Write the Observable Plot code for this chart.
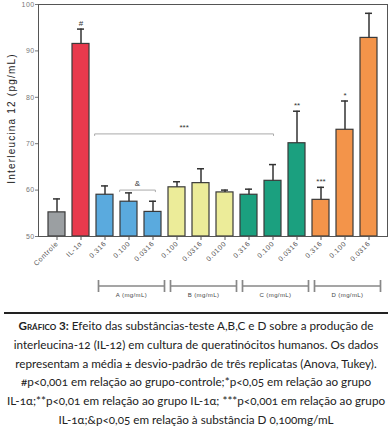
<!DOCTYPE html>
<html><head><meta charset="utf-8">
<script src="https://cdn.jsdelivr.net/npm/d3@7"></script>
<script src="https://cdn.jsdelivr.net/npm/@observablehq/plot@0.6"></script>
<style>
body{margin:0;background:#fff;width:392px;}
#chart svg{display:block;}
#caption{border-top:2px solid #222;margin:7px 4px 0 4px;padding-top:2px;font-family:Lato,"Open Sans",sans-serif;font-size:11.7px;line-height:18.8px;text-align:center;color:#222;font-variant-numeric:oldstyle-nums;white-space:nowrap;}
.sc{font-variant:small-caps;font-weight:bold;}
svg [aria-label="x-axis tick label"] text{letter-spacing:0.6px;}
svg [aria-label="y-axis tick label"] text{letter-spacing:0.4px;}
</style></head><body>
<div id="chart"></div>
<div id="caption"><span class="sc">Gráfico 3:</span> Efeito das substâncias-teste A,B,C e D sobre a produção de<br>interleucina-12 (IL-12) em cultura de queratinócitos humanos. Os dados<br>representam a média ± desvio-padrão de três replicatas (Anova, Tukey).<br>#p&lt;0,001 em relação ao grupo-controle;*p&lt;0,05 em relação ao grupo<br>IL-1α;**p&lt;0,01 em relação ao grupo IL-1α; ***p&lt;0,001 em relação ao grupo<br>IL-1α;&amp;p&lt;0,05 em relação à substância D 0,100mg/mL</div>
<script>
const keys = ["Controle","IL-1α","A 0.316","A 0.100","A 0.0316","B 0.100","B 0.0316","B 0.0100","C 0.316","C 0.100","C 0.0316","D 0.316","D 0.100","D 0.0316"];
const tickLabels = ["Controle","IL-1α","0.316","0.100","0.0316","0.100","0.0316","0.0100","0.316","0.100","0.0316","0.316","0.100","0.0316"];
const groups = ["Controle","IL-1α","A","A","A","B","B","B","C","C","C","D","D","D"];
const means = [55.2,91.5,59.0,57.5,55.3,60.6,61.5,59.5,59.0,62.0,70.1,57.9,73.0,92.8];
const sds = [2.9,3.2,1.9,1.9,2.3,1.2,3.1,0.5,1.2,3.5,6.9,2.7,6.2,5.3];
const sig = ["","#","","","","","","","","","**","***","*",""];
const groupNames = ["A","B","C","D"];
const groupLabels = ["A (mg/mL)","B (mg/mL)","C (mg/mL)","D (mg/mL)"];
const yTicks = [50,60,70,80,90,100];
const yLabel = "Interleucina 12 (pg/mL)";
const colorDomain = ["Controle","IL-1α","A","B","C","D"];
const colorRange = ["#9b9fa2","#e83a4d","#5aaade","#ecec99","#1ba07f","#f3944a"];
// comparison brackets: text, from bar, to bar, level (pg/mL)
const compText = ["***","&"];
const compFrom = ["A 0.316","A 0.100"];
const compTo = ["C 0.100","A 0.0316"];
const compLevel = [72.0,59.9];

const data = keys.map((k,i)=>({key:k, group:groups[i], mean:means[i], top:means[i]+sds[i], sig:sig[i]}));

function bandInfo(x){
  const step = x(keys[1]) - x(keys[0]);
  let bw = x.bandwidth;
  if (typeof bw === "function") bw = bw();
  if (typeof bw !== "number" || !isFinite(bw)) bw = step*0.7;
  return {step, bw, c: k => x(k) + bw/2};
}

function compMark(index, scales){
  const {x, y} = scales;
  const {bw, c} = bandInfo(x);
  const g = d3.create("svg:g");
  const offFrom = [-0.58, -0.52], offTo = [0.06, 0.17];
  compText.forEach((t,i)=>{
    const x1 = c(compFrom[i]) + offFrom[i]*bw, x2 = c(compTo[i]) + offTo[i]*bw, yy = y(compLevel[i]);
    g.append("path").attr("d",`M${x1},${yy+2}V${yy}H${x2}V${yy+2}`).attr("fill","none").attr("stroke","#aaa").attr("stroke-width",1);
    g.append("text").attr("x",(x1+x2)/2).attr("y",yy-4).attr("text-anchor","middle").attr("font-size",8).attr("fill","#333").attr("font-family","Liberation Sans, Arial, sans-serif").text(t);
  });
  return g.node();
}

function groupMark(index, scales){
  const {x, y} = scales;
  const {step, c} = bandInfo(x);
  const base = y(50);
  const g = d3.create("svg:g");
  groupNames.forEach((gn,i)=>{
    const ks = keys.filter((k,j)=>groups[j]===gn);
    const x1 = c(ks[0]) - step/2 + 6, x2 = c(ks[ks.length-1]) + step/2, yy = base + 50;
    g.append("path").attr("d",`M${x1},${yy-6}V${yy+6}M${x1},${yy}H${x2}M${x2},${yy-6}V${yy+6}`).attr("fill","none").attr("stroke","#888").attr("stroke-width",1.7);
    g.append("text").attr("x",(x1+x2)/2).attr("y",yy+11).attr("text-anchor","middle").attr("font-size",6).attr("letter-spacing","0.4px").attr("fill","#444").attr("font-family","Liberation Sans, Arial, sans-serif").text(groupLabels[i]);
  });
  return g.node();
}

const plot = Plot.plot({
  width:392, height:305, marginTop:4, marginBottom:69, marginLeft:38, marginRight:5,
  style:{fontFamily:"Liberation Sans, Arial, sans-serif", background:"#fff", overflow:"visible"},
  x:{domain:keys, paddingInner:0.3, paddingOuter:0.2, axis:null},
  y:{domain:[50,100], axis:null},
  color:{domain:colorDomain, range:colorRange},
  marks:[
    Plot.barY(data,{x:"key", y1:50, y2:"mean", fill:"group", stroke:"#3a3a3a", strokeWidth:1.2}),
    Plot.ruleX(data,{x:"key", y1:"mean", y2:"top", stroke:"#333", strokeWidth:1.5}),
    Plot.tickY(data,{x:"key", y:"top", stroke:"#333", strokeWidth:1.5, insetLeft:5, insetRight:5}),
    Plot.text(data,{x:"key", y:"top", text:"sig", dy:-6, fontSize:8, fill:"#333"}),
    Plot.frame({stroke:"#555", strokeWidth:1}),
    Plot.axisY({ticks:yTicks, tickSize:3, tickPadding:1, fontSize:7, color:"#777", label:null}),
    Plot.axisX({tickFormat:d=>tickLabels[keys.indexOf(d)], tickRotate:-45, tickSize:4, tickPadding:2, fontSize:7, color:"#555", label:null}),
    Plot.text([yLabel],{frameAnchor:"left", textAnchor:"middle", rotate:-90, dx:-27, dy:-2, fontSize:10, fill:"#222"}),
    compMark,
    groupMark
  ]
});
plot.querySelectorAll("text").forEach(t => { if (t.textContent === yLabel) t.setAttribute("letter-spacing", "1.2px"); });
document.getElementById("chart").append(plot);
</script>
</body></html>
